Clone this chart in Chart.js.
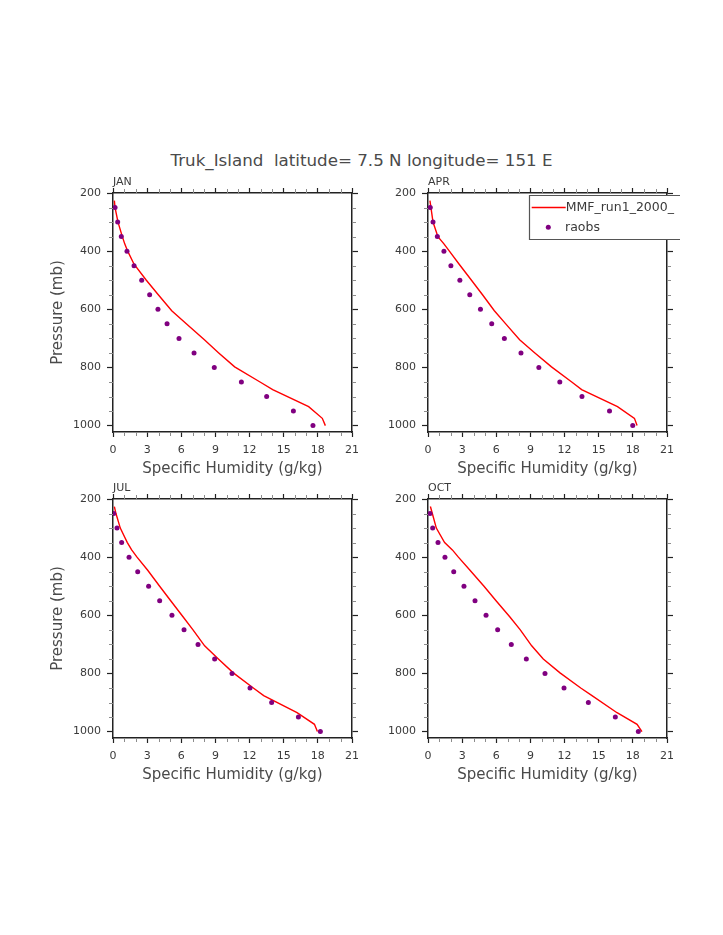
<!DOCTYPE html>
<html>
<head>
<meta charset="utf-8">
<script src="https://cdn.jsdelivr.net/npm/chart.js@4.4.1/dist/chart.umd.min.js"></script>
<style>
  html, body { margin: 0; padding: 0; background: #fff; }
  body { width: 723px; height: 935px; position: relative; overflow: hidden; }
  canvas { position: absolute; }
  #title {
    position: absolute; left: 0; top: 150px; width: 723px; line-height: 20px;
    text-align: center; font: 16.7px "DejaVu Sans"; color: #4a4a4a; white-space: pre;
  }
</style>
</head>
<body>
<div id="title">Truk_Island  latitude= 7.5 N longitude= 151 E</div>
<canvas id="c-jan" width="332" height="309" style="left:40px;top:173px"></canvas>
<canvas id="c-apr" width="332" height="309" style="left:355px;top:173px"></canvas>
<canvas id="c-jul" width="332" height="309" style="left:40px;top:479px"></canvas>
<canvas id="c-oct" width="332" height="309" style="left:355px;top:479px"></canvas>
<script>
// pressure levels (mb)
const obsP = [250, 300, 350, 400, 450, 500, 550, 600, 650, 700, 750, 800, 850, 900, 950, 1000];
const modelP = [226, 250, 300, 350, 375, 400, 445, 500, 550, 605, 650, 705, 750, 798, 850, 876, 935, 975, 1000];

// specific humidity (g/kg)
const janModel = [0.12, 0.18, 0.44, 0.82, 1.03, 1.29, 1.85, 2.93, 3.98, 5.16, 6.44, 8.03, 9.29, 10.69, 12.92, 14.03, 17.19, 18.39, 18.66];
const janObs = [0.18, 0.41, 0.73, 1.23, 1.85, 2.52, 3.22, 3.95, 4.75, 5.80, 7.12, 8.90, 11.28, 13.50, 15.85, 17.57];
const aprModel = [0.17, 0.26, 0.44, 0.87, 1.40, 1.88, 2.74, 3.82, 4.79, 5.83, 6.83, 8.05, 9.39, 10.85, 12.63, 13.50, 16.65, 18.14, 18.37];
const aprObs = [0.20, 0.44, 0.82, 1.40, 2.01, 2.80, 3.67, 4.61, 5.60, 6.71, 8.17, 9.74, 11.58, 13.53, 15.95, 17.99];
const julModel = [0.12, 0.26, 0.64, 1.26, 1.64, 2.11, 3.05, 4.10, 5.07, 6.15, 7.03, 8.05, 9.26, 10.57, 12.33, 13.24, 16.17, 17.70, 17.96];
const julObs = [0.06, 0.35, 0.76, 1.41, 2.17, 3.13, 4.10, 5.18, 6.24, 7.47, 8.93, 10.46, 12.04, 13.94, 16.29, 18.22];
const octModel = [0.21, 0.38, 0.73, 1.46, 2.14, 2.67, 3.69, 4.92, 5.98, 7.18, 8.11, 9.11, 10.13, 11.60, 13.42, 14.41, 16.61, 18.37, 18.80];
const octObs = [0.18, 0.41, 0.88, 1.49, 2.26, 3.16, 4.13, 5.10, 6.12, 7.32, 8.64, 10.28, 11.95, 14.09, 16.46, 18.48];

// axis ticks
const xTicks = [0, 3, 6, 9, 12, 15, 18, 21];
const yTicks = [200, 400, 600, 800, 1000];

const MODEL_LABEL = "MMF_run1_2000_";
const OBS_LABEL = "raobs";
const MODEL_COLOR = "#ff0000";
const OBS_COLOR = "#800080";

Chart.defaults.font.family = "DejaVu Sans";
Chart.defaults.color = "#3a3a3a";

function createMinorTickPlugin() {
  return {
    id: "minor-ticks",
    afterDraw(chart) {
      const { ctx, chartArea: a } = chart;
      const x = chart.scales.x;
      const y = chart.scales.y;
      ctx.save();
      ctx.strokeStyle = "#8c8c8c";
      ctx.lineWidth = 1;
      ctx.beginPath();
      for (let v = 1; v < 21; v++) {
        if (v % 3 === 0) continue;
        const px = Math.round(x.getPixelForValue(v)) + 0.5;
        ctx.moveTo(px, a.bottom); ctx.lineTo(px, a.bottom + 4);
        ctx.moveTo(px, a.top); ctx.lineTo(px, a.top - 4);
      }
      for (let p = 250; p < 1020; p += 50) {
        if (p % 200 === 0) continue;
        const py = Math.round(y.getPixelForValue(p)) + 0.5;
        ctx.moveTo(a.left, py); ctx.lineTo(a.left - 4, py);
        ctx.moveTo(a.right, py); ctx.lineTo(a.right + 4, py);
      }
      ctx.stroke();
      ctx.restore();
    },
  };
}

function createLegendPlugin() {
  return {
    id: "box-legend",
    afterDraw(chart) {
      const { ctx } = chart;
      const left = 174.5, top = 22.5, bottom = 66.5, clip = 325;
      ctx.save();
      ctx.beginPath();
      ctx.rect(0, 0, clip, chart.height);
      ctx.clip();
      ctx.fillStyle = "#fff";
      ctx.fillRect(left, top, clip - left + 10, bottom - top);
      ctx.strokeStyle = "#555";
      ctx.lineWidth = 1.2;
      ctx.beginPath();
      ctx.moveTo(clip + 5, top); ctx.lineTo(left, top); ctx.lineTo(left, bottom); ctx.lineTo(clip + 5, bottom);
      ctx.stroke();
      const model = chart.data.datasets[1];
      const obs = chart.data.datasets[0];
      ctx.strokeStyle = model.borderColor;
      ctx.lineWidth = model.borderWidth;
      ctx.beginPath();
      ctx.moveTo(176.7, 34.5); ctx.lineTo(210.7, 34.5);
      ctx.stroke();
      ctx.fillStyle = obs.pointBackgroundColor;
      ctx.beginPath();
      ctx.arc(193.3, 54.3, obs.pointRadius, 0, Math.PI * 2);
      ctx.fill();
      ctx.fillStyle = "#3a3a3a";
      ctx.font = "12.5px 'DejaVu Sans'";
      ctx.textBaseline = "middle";
      ctx.textAlign = "left";
      ctx.fillText(model.label, 210.7, 34.5);
      ctx.fillText(obs.label, 210, 54.3);
      ctx.restore();
    },
  };
}

function fixedTicks(values) {
  return (scale) => { scale.ticks = values.map((v) => ({ value: v })); };
}

function buildPanel(canvasId, month, modelQ, obsQ, showPressureTitle, extraPlugins) {
  const frame = { display: true, color: "#222", width: 1.5 };
  const hiddenGrid = (len) => ({ drawOnChartArea: false, tickLength: len, tickColor: "#222", tickWidth: 1.2 });
  return new Chart(document.getElementById(canvasId), {
    data: {
      datasets: [
        {
          type: "scatter",
          label: OBS_LABEL,
          data: obsP.map((p, i) => ({ x: obsQ[i], y: p })),
          pointRadius: 2.5,
          pointBackgroundColor: OBS_COLOR,
          pointBorderWidth: 0,
          showLine: false,
        },
        {
          type: "line",
          label: MODEL_LABEL,
          data: modelP.map((p, i) => ({ x: modelQ[i], y: p })),
          borderColor: MODEL_COLOR,
          borderWidth: 1.4,
          pointRadius: 0,
          tension: 0,
          fill: false,
        },
      ],
    },
    options: {
      responsive: false,
      animation: false,
      layout: { padding: 0 },
      plugins: {
        legend: { display: false },
        tooltip: { enabled: false },
      },
      scales: {
        x: {
          type: "linear", position: "bottom", min: 0, max: 21,
          afterBuildTicks: fixedTicks(xTicks),
          ticks: { padding: 7, font: { size: 11 }, maxRotation: 0, autoSkip: false, callback: (v) => String(v) },
          grid: hiddenGrid(5), border: frame,
          title: { display: true, text: "Specific Humidity (g/kg)", font: { size: 15 }, color: "#4a4a4a", padding: { top: 0, bottom: 4 } },
          afterFit: (s) => { s.height = 50; },
        },
        x2: {
          type: "linear", position: "top", min: 0, max: 21,
          afterBuildTicks: fixedTicks(xTicks),
          ticks: { display: false },
          grid: hiddenGrid(5), border: frame,
          title: { display: true, text: month, align: "start", font: { size: 11 }, padding: { top: 2.5, bottom: 0 } },
          afterFit: (s) => { s.height = 20; },
        },
        y: {
          type: "linear", position: "left", min: 200, max: 1022, reverse: true,
          afterBuildTicks: fixedTicks(yTicks),
          ticks: { padding: 6, font: { size: 11 }, autoSkip: false, callback: (v) => String(v) },
          grid: hiddenGrid(6), border: frame,
          title: { display: showPressureTitle, text: "Pressure (mb)", font: { size: 15 }, color: "#4a4a4a", padding: { top: 9.5, bottom: 0 } },
          afterFit: (s) => { s.width = 73; },
        },
        y2: {
          type: "linear", position: "right", min: 200, max: 1022, reverse: true,
          afterBuildTicks: fixedTicks(yTicks),
          ticks: { display: false },
          grid: hiddenGrid(6), border: frame,
          afterFit: (s) => { s.width = 20; },
        },
      },
    },
    plugins: [createMinorTickPlugin(), ...extraPlugins],
  });
}

buildPanel("c-jan", "JAN", janModel, janObs, true, []);
buildPanel("c-apr", "APR", aprModel, aprObs, false, [createLegendPlugin()]);
buildPanel("c-jul", "JUL", julModel, julObs, true, []);
buildPanel("c-oct", "OCT", octModel, octObs, false, []);
</script>
</body>
</html>
